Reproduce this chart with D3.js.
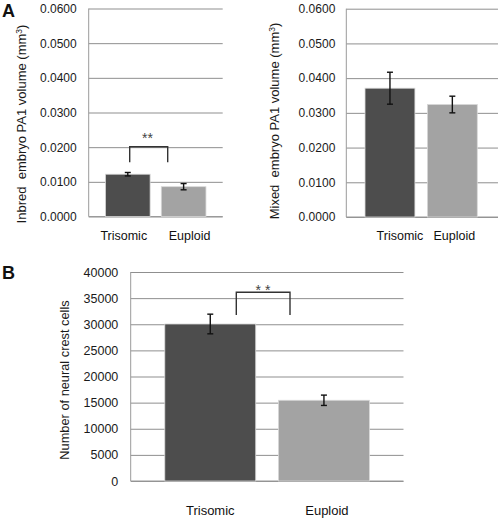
<!DOCTYPE html>
<html><head><meta charset="utf-8">
<script src="https://cdn.jsdelivr.net/npm/d3@7"></script>
<style>
html,body{margin:0;padding:0;background:#fff;}
svg{display:block;font-family:"Liberation Sans",Arial,sans-serif;}
</style></head>
<body>
<svg id="chart" width="498" height="519"></svg>
<script>
const categories = ["Trisomic", "Euploid"];
const inbredValues = [0.0122, 0.0086];
const inbredErrors = [0.0005, 0.0009];
const mixedValues = [0.0371, 0.0324];
const mixedErrors = [0.0046, 0.0024];
const crestValues = [30050, 15450];
const crestErrors = [1880, 990];
const volumeTicks = [0, 0.01, 0.02, 0.03, 0.04, 0.05, 0.06];
const crestTicks = [0, 5000, 10000, 15000, 20000, 25000, 30000, 35000, 40000];
const barColors = ["#4d4d4d", "#a3a3a3"];

const svg = d3.select("#chart");

function panel(opt) {
  const g = svg.append("g");
  const x = d3.scaleBand().domain(categories).range([opt.x0, opt.x1]).paddingInner(0.2).paddingOuter(0.3);
  const y = d3.scaleLinear().domain([0, opt.max]).range([opt.y0, opt.y1]);
  const ga = g.append("g").attr("transform", `translate(${opt.x0},0)`)
    .call(d3.axisLeft(y).tickValues(opt.ticks).tickSize(-(opt.gridEnd - opt.x0)).tickPadding(opt.tickPad).tickFormat(opt.fmt));
  ga.select(".domain").remove();
  ga.selectAll(".tick line").attr("stroke", "#8f8f8f").attr("stroke-width", 1);
  ga.selectAll(".tick text").attr("fill", "#1a1a1a").style("font-size", opt.tickFont + "px").style("font-family", "Liberation Sans, Arial, sans-serif");
  g.append("line").attr("x1", opt.x0).attr("x2", opt.x0).attr("y1", y(opt.max)).attr("y2", y(0))
    .attr("stroke", "#9a9a9a").attr("stroke-width", 1);
  g.append("line").attr("x1", opt.x0).attr("x2", opt.gridEnd).attr("y1", y(0)).attr("y2", y(0))
    .attr("stroke", "#9a9a9a").attr("stroke-width", 1.2);
  g.selectAll("rect.bar").data(categories).enter().append("rect")
    .attr("x", d => x(d)).attr("width", x.bandwidth())
    .attr("y", (d, i) => y(opt.values[i])).attr("height", (d, i) => y(0) - y(opt.values[i]))
    .attr("fill", (d, i) => barColors[i]).attr("stroke", "#d8d8d8").attr("stroke-width", 0.8);
  const cap = 3;
  categories.forEach((c, i) => {
    const cx = x(c) + x.bandwidth() / 2;
    const hi = y(opt.values[i] + opt.errors[i]), lo = y(opt.values[i] - opt.errors[i]);
    g.append("line").attr("x1", cx).attr("x2", cx).attr("y1", hi).attr("y2", lo).attr("stroke", "#111").attr("stroke-width", 1.4);
    g.append("line").attr("x1", cx - cap).attr("x2", cx + cap).attr("y1", hi).attr("y2", hi).attr("stroke", "#111").attr("stroke-width", 1.4);
    g.append("line").attr("x1", cx - cap).attr("x2", cx + cap).attr("y1", lo).attr("y2", lo).attr("stroke", "#111").attr("stroke-width", 1.4);
  });
  g.selectAll("text.cat").data(categories).enter().append("text")
    .attr("x", d => x(d) + x.bandwidth() / 2 + (opt.catShift ? opt.catShift[categories.indexOf(d)] : 0))
    .attr("y", opt.catY).attr("text-anchor", "middle")
    .style("font-size", opt.catFont + "px").attr("fill", "#111").text(d => d);
  g.append("text").attr("transform", `translate(${opt.labelX},${opt.labelY}) rotate(-90)`)
    .attr("text-anchor", "middle").style("font-size", opt.labelFont + "px").style("white-space", "pre")
    .attr("fill", "#1a1a1a").text(opt.label).each(function () {
      if (opt.sup) {
        const t = d3.select(this);
        t.text(null);
        t.append("tspan").text(opt.label);
        t.append("tspan").attr("dy", -4).style("font-size", "8.5px").text(opt.sup);
        t.append("tspan").attr("dy", 4).text(")");
      }
    });
  return {x, y, g};
}

const pA1 = panel({
  x0: 88.7, x1: 222.7, gridEnd: 222.7, y0: 216.5, y1: 8.5, max: 0.06,
  ticks: volumeTicks, fmt: d3.format(".4f"), tickPad: 12, tickFont: 12,
  values: inbredValues, errors: inbredErrors, catY: 240, catFont: 12.5, catShift: [-4, 6],
  label: "Inbred  embryo PA1 volume (mm", sup: "3", labelX: 26, labelY: 124, labelFont: 13
});
const pA2 = panel({
  x0: 346.3, x1: 496, gridEnd: 498, y0: 217, y1: 8.7, max: 0.06,
  ticks: volumeTicks, fmt: d3.format(".4f"), tickPad: 11, tickFont: 12,
  values: mixedValues, errors: mixedErrors, catY: 240, catFont: 12.5, catShift: [10, 2],
  label: "Mixed  embryo PA1 volume (mm", sup: "3", labelX: 279, labelY: 121, labelFont: 13
});
const pB = panel({
  x0: 130.7, x1: 403.5, gridEnd: 403.5, y0: 481, y1: 272, max: 40000,
  ticks: crestTicks, fmt: d3.format("d"), tickPad: 12.4, tickFont: 12.5,
  values: crestValues, errors: crestErrors, catY: 514.5, catFont: 13, catShift: [0, 3],
  label: "Number of neural crest cells", labelX: 69, labelY: 380, labelFont: 12.8
});

function bracket(p, xl, xr, yTop, yBottom, txt, ty, tx) {
  const g = p.g;
  g.append("path")
    .attr("d", `M${xl},${yBottom}V${yTop}H${xr}V${yBottom}`)
    .attr("fill", "none").attr("stroke", "#333").attr("stroke-width", 1.4);
  g.append("text").attr("x", tx).attr("y", ty).attr("text-anchor", "middle")
    .style("font-size", "14px").style("white-space", "pre").attr("fill", "#444").text(txt);
}
bracket(pA1, 129.7, 167.7, 146.7, 162.3, "**", 143, 147.5);
bracket(pB, 236.3, 290, 292.3, 315, "* *", 294.5, 263);

svg.append("text").attr("x", 2).attr("y", 17).style("font-size", "18px").style("font-weight", "bold").attr("fill", "#111").text("A");
svg.append("text").attr("x", 2).attr("y", 279).style("font-size", "18px").style("font-weight", "bold").attr("fill", "#111").text("B");
</script>
</body></html>
